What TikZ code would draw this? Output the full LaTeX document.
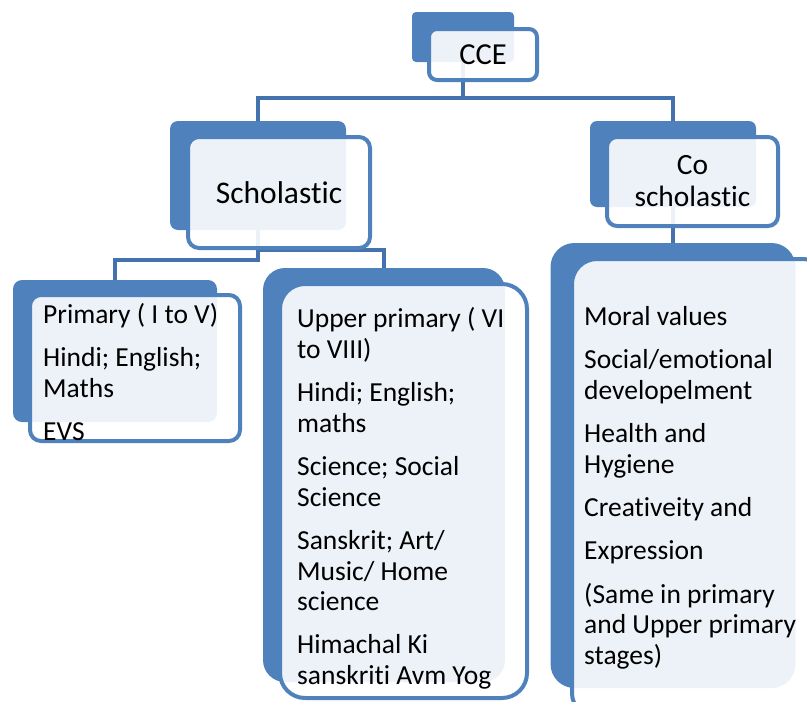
\documentclass[tikz,border=0pt]{standalone}
\usepackage{fontspec}
\setmainfont{Carlito}[Ligatures={NoCommon,NoContextual}]
\definecolor{accent}{HTML}{4F81BD}
\definecolor{connc}{HTML}{4372AE}
\pgfdeclarelayer{bg}
\pgfsetlayers{bg,main}
\tikzset{
  backbox/.style={rectangle, fill=accent, draw=none, inner sep=0pt},
  frontbox/.style={rectangle, fill=white, fill opacity=0.9, text opacity=1, draw=accent, draw opacity=1, line width=4pt, inner sep=0pt},
  conn/.style={draw=connc, line width=4pt},
  itemtext/.style={align=left, anchor=north west, inner sep=0pt, text=black, font=\fontsize{27.5}{30.7}\selectfont}
}
\begin{document}
\begin{tikzpicture}[x=1pt,y=-1pt]
\useasboundingbox (0,0) rectangle (807,702);
\clip (0,0) rectangle (807,702);
% back boxes
\node[backbox, minimum width=102pt, minimum height=50pt, rounded corners=4pt] (cceB) at (463,37) {};
\node[backbox, minimum width=176pt, minimum height=109pt, rounded corners=8pt] (schB) at (258,175.5) {};
\node[backbox, minimum width=166pt, minimum height=86pt, rounded corners=7pt] (coB) at (673,164) {};
\node[backbox, minimum width=204pt, minimum height=142pt, rounded corners=9pt] (priB) at (115,351) {};
\node[backbox, minimum width=242pt, minimum height=414pt, rounded corners=22pt] (upB) at (384,475) {};
\node[backbox, minimum width=245pt, minimum height=445pt, rounded corners=24pt] (coiB) at (673,465.5) {};
% front boxes
\node[frontbox, minimum width=108pt, minimum height=51pt, rounded corners=8pt, font=\fontsize{30.5}{32}\selectfont] (cceF) at (483,54.5) {CCE};
\node[frontbox, minimum width=182pt, minimum height=111pt, rounded corners=11pt, font=\fontsize{31.5}{34}\selectfont] (schF) at (279,192.5) {Scholastic};
\node[frontbox, minimum width=171pt, minimum height=89pt, rounded corners=10pt, font=\fontsize{29.4}{32}\selectfont, align=center] (coF) at (692.5,181.5) {Co\\scholastic};
\node[frontbox, minimum width=210pt, minimum height=146pt, rounded corners=11pt] (priF) at (135,368) {};
\node[frontbox, minimum width=247pt, minimum height=414pt, rounded corners=25pt] (upF) at (403.5,491) {};
\node[frontbox, minimum width=256pt, minimum height=459pt, rounded corners=25pt] (coiF) at (700,488.5) {};
% item texts
\node[itemtext] (priT) at (43,302) {\strut Primary ( I to V)\\[12.5pt]Hindi; English;\\Maths\\[12.5pt]EVS};
\node[itemtext] (upT) at (297,306) {\strut Upper primary ( VI\\to VIII)\\[12.5pt]Hindi; English;\\maths\\[12.5pt]Science; Social\\Science\\[12.5pt]Sanskrit; Art/\\Music/ Home\\science\\[12.5pt]Himachal Ki\\sanskriti Avm Yog};
\node[itemtext] (coiT) at (584,304) {\strut Moral values\\[12.5pt]Social/emotional\\developelment\\[12.5pt]Health and\\Hygiene\\[12.5pt]Creativeity and\\[12.5pt]Expression\\[12.5pt](Same in primary\\and Upper primary\\stages)};
% connectors
\begin{pgfonlayer}{bg}
\draw[conn] (cceB.south) -- ++(0,36) -| (schB.north);
\draw[conn] (cceB.south) -- ++(0,36) -| (coB.north);
\draw[conn] (schB.south) -- ++(0,30) -| (priB.north);
\draw[conn] (schB.south) -- ++(0,20) -| (upB.north);
\draw[conn] (coB.south) -- (coiB.north);
\end{pgfonlayer}
\end{tikzpicture}
\end{document}
